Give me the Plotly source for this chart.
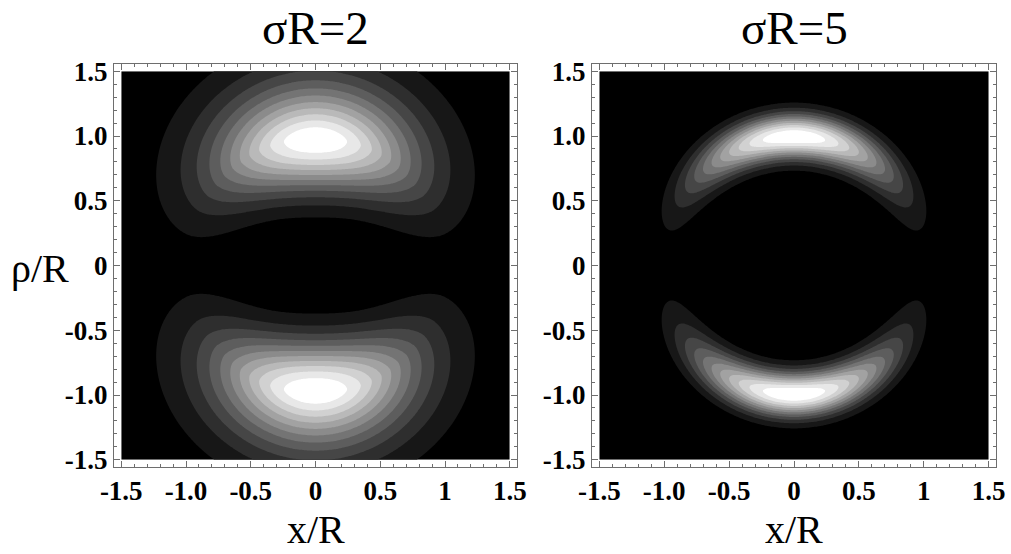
import numpy as np
import plotly.graph_objects as go

# ---- chart values ----
panel_titles = ["σR=2", "σR=5"]
peak_radius = [0.985, 0.995]      # radius of the bright ridge (units of R)
k_inner = [6.6, 36.0]             # radial fall-off inside the ridge
k_outer = [3.7, 36.0]             # radial fall-off outside the ridge
power_inner = [2.0, 2.0]
power_outer = [1.5, 2.0]
ang_width = [0.60, 0.58]          # angular width (rad) about the rho axis at r <= R
ang_growth = [0.05, 0.0]          # growth of angular width per unit radius beyond R
n_contours = 11

tick_vals = [-1.5, -1.0, -0.5, 0, 0.5, 1.0, 1.5]
x_tick_text = ["-1.5", "-1.0", "-0.5", "0", "0.5", "1", "1.5"]
y_tick_text = ["-1.5", "-1.0", "-0.5", "0", "0.5", "1.0", "1.5"]

grid = np.linspace(-1.5, 1.5, 241)
X, P = np.meshgrid(grid, grid)
r = np.hypot(X, P)
phi = np.arctan2(np.abs(X), np.abs(P))


def field(i):
    d = r - peak_radius[i]
    rad = np.where(d < 0, k_inner[i] * np.abs(d) ** power_inner[i],
                   k_outer[i] * np.abs(d) ** power_outer[i])
    s = ang_width[i] + ang_growth[i] * np.clip(r - 1.0, 0, None)
    f = np.exp(-rad - phi ** 2 / (2 * s ** 2))
    return f / f.max()


W, H = 1011, 554
step = 1.0 / (n_contours + 1)

fig = go.Figure()
for i in range(2):
    fig.add_trace(go.Contour(
        x=grid, y=grid, z=field(i),
        xaxis="x" if i == 0 else "x2", yaxis="y" if i == 0 else "y2",
        colorscale=[[0, "black"], [1, "white"]],
        contours=dict(start=step, end=n_contours * step + 1e-9, size=step, coloring="fill"),
        line=dict(width=0),
        showscale=False, hoverinfo="skip",
    ))

frame_col = "#6e6e6e"
tick_font = dict(family="Liberation Serif", size=27, color="black")
common = dict(
    range=[-1.556, 1.556], showline=True, linecolor=frame_col, linewidth=1,
    mirror="allticks", ticks="inside", ticklen=6, tickwidth=1, tickcolor=frame_col,
    showgrid=False, zeroline=False, tickmode="array", tickvals=tick_vals,
    tickfont=tick_font, automargin=False,
    minor=dict(ticks="inside", ticklen=3, tickcolor=frame_col, tickmode="linear",
               tick0=0, dtick=0.1, showgrid=False),
    fixedrange=True,
)
xt = ["<b>%s</b>" % t for t in x_tick_text]
yt = ["<b>%s</b>" % t for t in y_tick_text]

xdoms = [[114 / W, 517 / W], [592 / W, 996 / W]]
ydom = [1 - 467 / H, 1 - 64 / H]
fig.update_layout(
    template="none",
    width=W, height=H, margin=dict(l=0, r=0, t=0, b=0, pad=0, autoexpand=False),
    paper_bgcolor="white", plot_bgcolor="white", showlegend=False,
    xaxis=dict(domain=xdoms[0], anchor="y", ticktext=xt, **common),
    yaxis=dict(domain=ydom, anchor="x", ticktext=yt, **common),
    xaxis2=dict(domain=xdoms[1], anchor="y2", ticktext=xt, **common),
    yaxis2=dict(domain=ydom, anchor="x2", ticktext=yt, **common),
)

ann = []
centers = [315.5 / W, 794 / W]
for i in range(2):
    ann.append(dict(x=centers[i], y=1 - 28 / H, xref="paper", yref="paper",
                    text=panel_titles[i], showarrow=False, xanchor="center", yanchor="middle",
                    font=dict(family="Liberation Serif", size=47, color="black")))
    ann.append(dict(x=centers[i], y=1 - 529 / H, xref="paper", yref="paper",
                    text="x/R", showarrow=False, xanchor="center", yanchor="middle",
                    font=dict(family="Liberation Serif", size=40, color="black")))
ann.append(dict(x=40 / W, y=1 - 268 / H, xref="paper", yref="paper",
                text="ρ/R", showarrow=False, xanchor="center", yanchor="middle",
                font=dict(family="Liberation Serif", size=40, color="black")))
fig.update_layout(annotations=ann)

fig.write_html("out.html")
